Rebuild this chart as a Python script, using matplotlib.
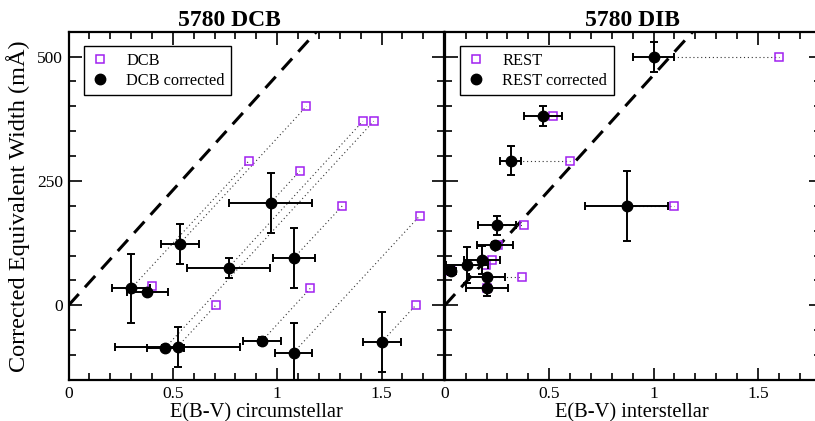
import matplotlib
matplotlib.use("Agg")
import matplotlib.pyplot as plt
from matplotlib.ticker import MultipleLocator, FuncFormatter
import numpy as np

# ---------------- data ----------------
# Left panel: 5780 DCB vs circumstellar E(B-V)
dcb_ebv_raw = [0.866, 0.402, 1.140, 1.410, 1.108, 1.312, 1.462, 0.705, 1.158, 1.683, 1.663]
dcb_ew_raw = [291, 39, 400, 370, 270, 200, 370, 0, 34, 180, 0]
dcb_ebv_corr = [0.300, 0.378, 0.533, 0.767, 0.968, 1.079, 0.464, 0.523, 0.928, 1.078, 1.502]
dcb_ew_corr = [34, 27, 124, 76, 206, 95, -85, -83, -71, -95, -73]
dcb_xerr = [0.09, 0.10, 0.09, 0.20, 0.20, 0.10, 0.09, 0.30, 0.09, 0.09, 0.09]
dcb_yerr = [70, 5, 40, 20, 60, 60, 6, 40, 8, 60, 60]

# Right panel: 5780 DIB vs interstellar E(B-V)
dib_ebv_raw = [1.600, 0.519, 0.599, 1.099, 0.380, 0.255, 0.228, 0.196, 0.370, 0.203, 0.032]
dib_ew_raw = [500, 380, 291, 200, 161, 121, 91, 81, 58, 35, 69]
dib_ebv_corr = [1.000, 0.471, 0.316, 0.871, 0.251, 0.240, 0.179, 0.108, 0.203, 0.203, 0.032]
dib_ew_corr = [500, 380, 291, 200, 161, 121, 91, 81, 58, 35, 69]
dib_xerr = [0.10, 0.09, 0.05, 0.20, 0.09, 0.085, 0.085, 0.10, 0.085, 0.10, 0.02]
dib_yerr = [30, 20, 30, 70, 19, 6, 28, 37, 6, 17, 8]

relation_slope = 463  # mA per E(B-V)

panel_titles = ["5780 DCB", "5780 DIB"]
xlabels = ["E(B-V) circumstellar", "E(B-V) interstellar"]
legend_labels = [("DCB", "DCB corrected"), ("REST", "REST corrected")]
ylabel = "Corrected Equivalent Width (mÅ)"

# ---------------- style ----------------
plt.rcParams['font.family'] = ['Liberation Serif', 'DejaVu Serif']
PURPLE = '#a020f0'

W, H = 815, 421
fig = plt.figure(figsize=(W / 100, H / 100), dpi=100)

ax_bottom = (H - 380) / H
ax_h_px = 380 - 31.7
ax_height = ax_h_px / H
ax_w_px = 375.7
ax_w = ax_w_px / W
axL = fig.add_axes([68.5 / W, ax_bottom, ax_w, ax_height])
axR = fig.add_axes([444.8 / W, ax_bottom, ax_w, ax_height])


def fmt(v, pos):
    if abs(v - round(v)) < 1e-9:
        return "%d" % round(v)
    return ("%g" % v)


def draw(ax, xr, yr, xc, yc, xe, ye, labels):
    xr = np.asarray(xr); yr = np.asarray(yr)
    xc = np.asarray(xc); yc = np.asarray(yc)
    # dashed relation
    xx = np.array([0, 1.8])
    ax.plot(xx, relation_slope * xx, color='black', lw=2.2, dashes=(5.0, 3.0), zorder=2)
    # dotted connectors
    for a, b, c, d in zip(xr, yr, xc, yc):
        ax.plot([c, a], [d, b], color='#333333', lw=0.8, ls=(0, (1, 2.5)), zorder=3)
    hraw, = ax.plot(xr, yr, ls='none', marker='s', ms=5.5, mfc='none', mec=PURPLE,
                    mew=1.1, zorder=4, label=labels[0])
    ax.errorbar(xc, yc, xerr=xe, yerr=ye, fmt='none', ecolor='black', elinewidth=1.4,
                capsize=3.2, capthick=1.4, zorder=5)
    hcorr, = ax.plot(xc, yc, ls='none', marker='o', ms=7.5, mfc='black', mec='black',
                     zorder=6, label=labels[1])
    leg = ax.legend(handles=[hraw, hcorr], loc='upper left',
                    bbox_to_anchor=(15 / ax_w_px, 1 - 14.3 / ax_h_px), borderaxespad=0,
                    fancybox=False, framealpha=1, edgecolor='black', fontsize=11.8,
                    handlelength=1.2, handletextpad=1.0, borderpad=0.4,
                    labelspacing=0.25, markerscale=1.0)
    leg.get_frame().set_linewidth(1.0)

    ax.set_xlim(0, 1.8)
    ax.set_ylim(-150, 550)
    ax.xaxis.set_major_locator(MultipleLocator(0.5))
    ax.xaxis.set_minor_locator(MultipleLocator(0.1))
    ax.yaxis.set_major_locator(MultipleLocator(250))
    ax.yaxis.set_minor_locator(MultipleLocator(50))
    ax.xaxis.set_major_formatter(FuncFormatter(fmt))
    ax.tick_params(which='both', direction='in', top=True, right=True, width=1.2,
                   labelsize=12.5, colors='black')
    ax.tick_params(which='major', length=9, pad=4)
    ax.tick_params(which='minor', length=5)
    for s in ax.spines.values():
        s.set_linewidth(1.6)


draw(axL, dcb_ebv_raw, dcb_ew_raw, dcb_ebv_corr, dcb_ew_corr, dcb_xerr, dcb_yerr,
     legend_labels[0])
draw(axR, dib_ebv_raw, dib_ew_raw, dib_ebv_corr, dib_ew_corr, dib_xerr, dib_yerr,
     legend_labels[1])

axR.tick_params(labelleft=False)
axL.set_ylabel(ylabel, fontsize=17.5, va='center')
axL.yaxis.set_label_coords(-(68.5 - 18) / ax_w_px, 0.5)
axL.set_xlabel(xlabels[0], fontsize=14.8, va='center')
axR.set_xlabel(xlabels[1], fontsize=14.8, va='center')
axL.xaxis.set_label_coords(0.5, -(412.5 - 380) / ax_h_px)
axR.xaxis.set_label_coords((632 - 444.8) / ax_w_px, -(412.5 - 380) / ax_h_px)

axL.set_title(panel_titles[0], fontsize=17, fontweight='bold', x=0.427, pad=4)
axR.set_title(panel_titles[1], fontsize=17, fontweight='bold', x=(632 - 444.8) / ax_w_px, pad=4)

fig.savefig("out.png", dpi=100)
